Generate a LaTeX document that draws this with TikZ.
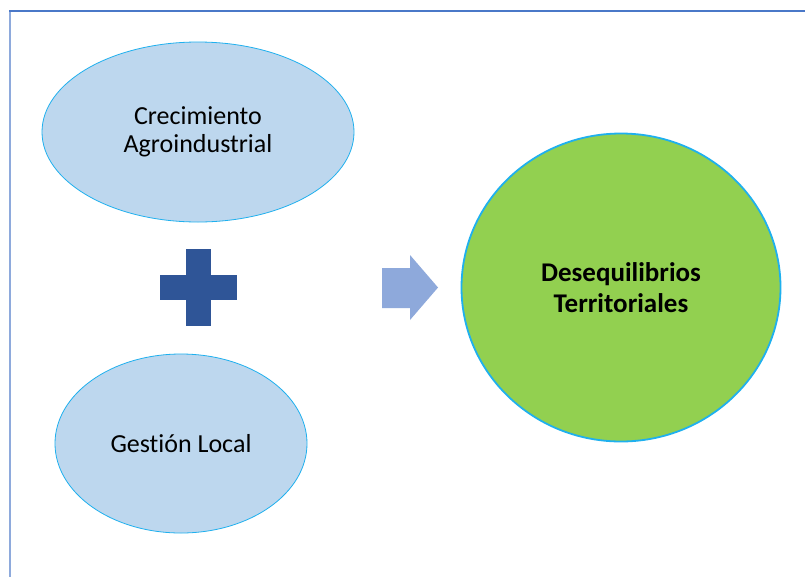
\documentclass[tikz,border=0pt]{standalone}
\usepackage{fontspec}
\setmainfont{Carlito}[Ligatures=NoCommon]
\usetikzlibrary{shapes.geometric}
\definecolor{ovalfill}{HTML}{BDD7EE}
\definecolor{ovalline}{HTML}{1FB0EE}
\definecolor{greenfill}{HTML}{92D050}
\definecolor{plusblue}{HTML}{2F5597}
\definecolor{arrowblue}{HTML}{8EA9DB}
\definecolor{frametop}{HTML}{4A78C8}
\definecolor{frameleft}{HTML}{8EAADC}
\tikzset{
  oval/.style={ellipse, draw=ovalline, fill=ovalfill, line width=0.8pt, inner sep=0pt,
    align=center, font=\fontsize{26}{28}\selectfont},
}
\begin{document}
\begin{tikzpicture}[x=1pt,y=-1pt]
    \useasboundingbox (0,0) rectangle (805,576);
    \fill[white] (0,0) rectangle (805,576);
    \draw[frameleft, line width=2pt] (10,577) -- (10,11);
    \draw[frametop, line width=2pt] (9,11) -- (806,11);
    \node[oval, minimum width=312, minimum height=180] (crec) at (198,132) {Crecimiento\\Agroindustrial};
    \node[oval, minimum width=252, minimum height=179] (gest) at (181,443.5) {Gestión Local};
    \node[ellipse, draw=ovalline, fill=greenfill, line width=1.8pt, inner sep=0pt,
      minimum width=319, minimum height=308, align=center,
      font=\fontsize{27}{31}\selectfont\bfseries] (deseq) at (621,287.5) {Desequilibrios\\Territoriales};
    % plus sign
    \fill[plusblue] (186,249) rectangle (211,326);
    \fill[plusblue] (160,275) rectangle (237,300);
    % block arrow
    \fill[arrowblue] (382,268) -- (410,268) -- (410,255) -- (438,287.5)
      -- (410,320) -- (410,308) -- (382,308) -- cycle;
\end{tikzpicture}
\end{document}
